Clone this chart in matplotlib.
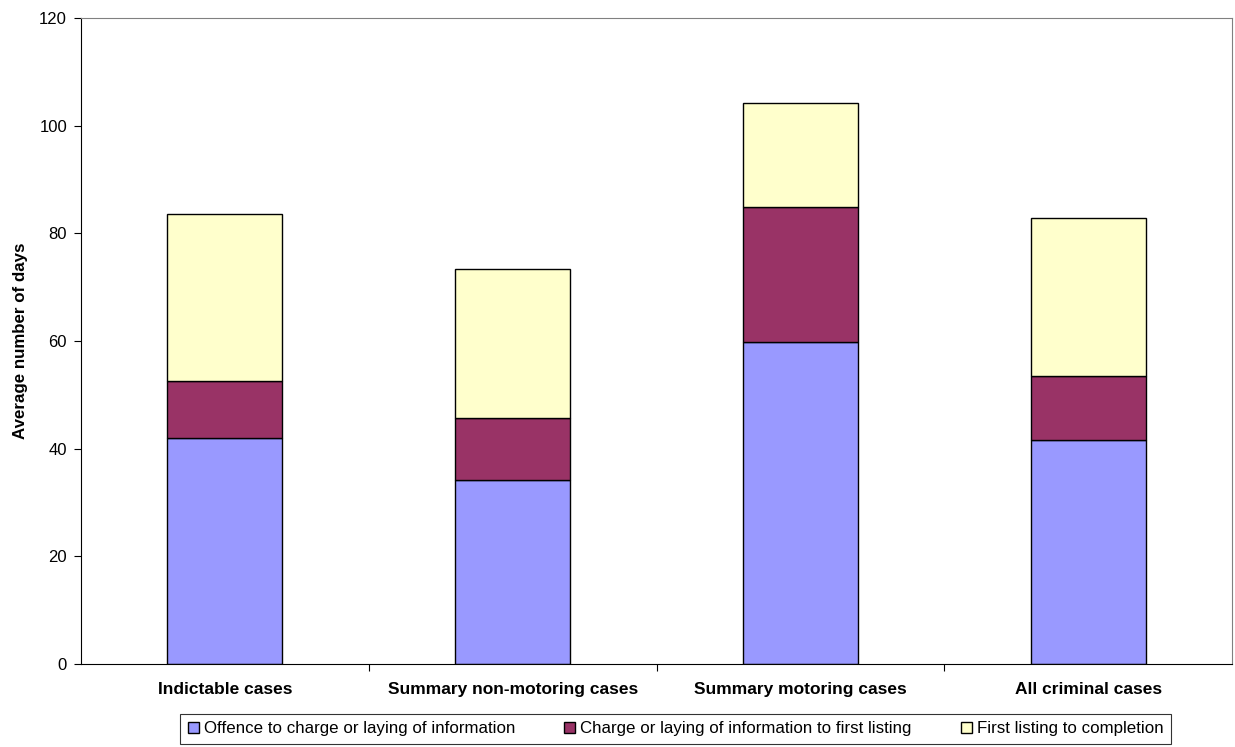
import numpy as np
import matplotlib.pyplot as plt

plt.rcParams['font.family'] = ['Liberation Sans', 'DejaVu Sans']

# Data (days)
categories = ['Indictable cases', 'Summary non-motoring cases',
              'Summary motoring cases', 'All criminal cases']
offence_to_charge = [42.0, 34.2, 59.8, 41.6]
charge_to_listing = [10.6, 11.5, 25.1, 11.9]
listing_to_completion = [31.0, 27.7, 19.3, 29.4]
series_labels = ['Offence to charge or laying of information',
                 'Charge or laying of information to first listing',
                 'First listing to completion']
colors = ['#9999FF', '#993366', '#FFFFCC']

fig = plt.figure(figsize=(12.35, 7.47), dpi=100)
ax = fig.add_axes([81 / 1235, 1 - 664 / 747, (1232 - 81) / 1235, (664 - 18) / 747])

x = np.arange(len(categories))
bottom = np.zeros(len(categories))
for vals, lab, col in zip([offence_to_charge, charge_to_listing, listing_to_completion],
                          series_labels, colors):
    ax.bar(x, vals, width=0.4, bottom=bottom, color=col, edgecolor='black',
           linewidth=1.0, label=lab)
    bottom += np.array(vals)

ax.set_xlim(-0.5, len(categories) - 0.5)
ax.set_ylim(0, 120)
ax.set_yticks(range(0, 121, 20))
ax.tick_params(axis='y', labelsize=12, direction='out', length=5, width=0.8, pad=5)

# category labels in the middle, ticks on boundaries
ax.set_xticks(x)
ax.set_xticklabels(categories, fontsize=12.5, fontweight='bold')
ax.tick_params(axis='x', which='major', length=0, pad=13)
ax.set_xticks(np.arange(0.5, len(categories) - 0.5, 1), minor=True)
ax.tick_params(axis='x', which='minor', length=5, width=0.8, direction='out')

ax.set_ylabel('Average number of days', fontsize=12.2, fontweight='bold', labelpad=8)

for s in ['left', 'bottom']:
    ax.spines[s].set_color('black')
for s in ['top', 'right']:
    ax.spines[s].set_color('#808080')

leg = fig.legend(loc='lower center', bbox_to_anchor=(0.547, -0.007), ncol=3,
                 fontsize=12.2, frameon=True, fancybox=False, edgecolor='black',
                 handlelength=0.65, handleheight=0.65, handletextpad=0.3,
                 columnspacing=2.9, borderpad=0.45)
leg.get_frame().set_linewidth(0.8)

fig.savefig('out.png', dpi=100)
